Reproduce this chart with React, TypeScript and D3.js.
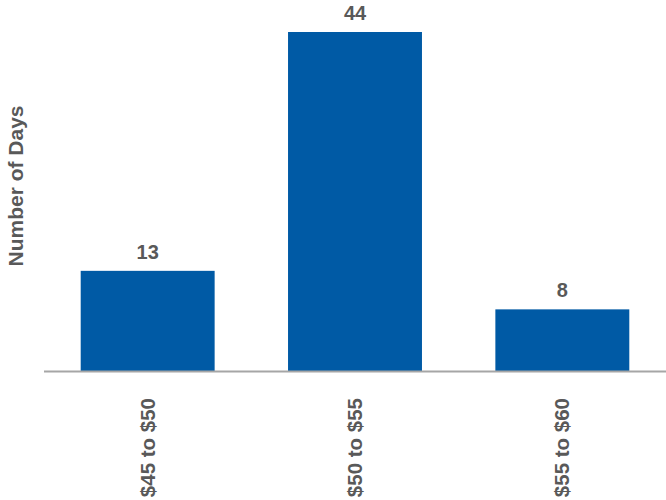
import * as d3 from 'd3'

const W = 666, H = 500
const categories = ['$45 to $50', '$50 to $55', '$55 to $60']
const days = [13, 44, 8]

const BAR = '#005aa5'
const TXT = '#595959'
const FONT = 'Arial, "Liberation Sans", sans-serif'

export default function App() {
  const x = d3.scaleBand<string>().domain(categories).range([44, 666]).paddingInner(0.354).paddingOuter(0.177)
  const y = d3.scaleLinear([0, 44], [371, 32])
  const base = y(0)

  return (
    <svg width={W} height={H} viewBox={`0 0 ${W} ${H}`}
      style={{ position: 'fixed', left: 0, top: 0, background: '#fff', display: 'block' }}>
      {categories.map((c, i) => {
        const bx = x(c)!
        const cx = bx + x.bandwidth() / 2
        return (
          <g key={c}>
            <rect x={bx} y={y(days[i])} width={x.bandwidth()} height={base - y(days[i])} fill={BAR} />
            <text x={cx} y={y(days[i]) - 12} textAnchor="middle" fontFamily={FONT} fontWeight="bold"
              fontSize={20} fill={TXT}>{days[i]}</text>
            <text transform={`translate(${cx + 7},${base + 27}) rotate(-90)`} textAnchor="end"
              fontFamily={FONT} fontWeight="bold" fontSize={20.5} fill={TXT}>{c}</text>
          </g>
        )
      })}
      <line x1={44} x2={W} y1={base + 0.5} y2={base + 0.5} stroke="#a6a6a6" strokeWidth={2} />
      <text transform={`translate(23,186) rotate(-90)`} textAnchor="middle" fontFamily={FONT}
        fontWeight="bold" fontSize={21} fill={TXT}>Number of Days</text>
    </svg>
  )
}
